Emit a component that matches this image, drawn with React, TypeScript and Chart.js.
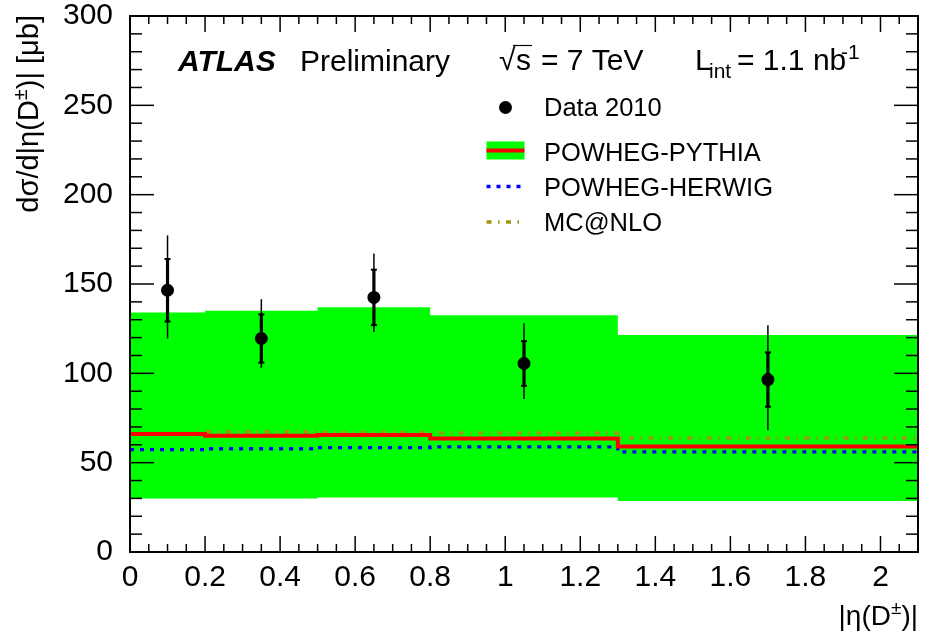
import { useEffect, useRef } from "react";
import { Chart, registerables } from "chart.js";

Chart.register(...registerables);

// ---------- data ----------
const binEdges = [0, 0.2, 0.5, 0.8, 1.3, 2.1];
const bandHigh = [134, 135, 137, 132.5, 121.5];
const bandLow = [30, 30, 30.5, 30.5, 28.5];
const powhegPythia = [66, 65, 65.5, 63.5, 59];
const powhegHerwig = [57.3, 57.8, 58.4, 58.8, 56];
const mcAtNlo = [66.3, 67.3, 66.8, 66.6, 63.8];

const dataEta = [0.1, 0.35, 0.65, 1.05, 1.7];
const dataXsec = [146.5, 119.5, 142.5, 105.5, 96.5];
const statErr = [17.5, 13.5, 15.5, 12.5, 15.2];
const totErrUp = [30.7, 22, 24.6, 22.5, 30.4];
const totErrDown = [27, 16.4, 19.3, 19.8, 28.3];

const legendLabels = ["Data 2010", "POWHEG-PYTHIA", "POWHEG-HERWIG", "MC@NLO"];
// axis titles: [before superscript, superscript, after superscript]
const xTitleParts = ["|η(D", "±", ")|"];
const yTitleParts = ["dσ/d|η(D", "±", ")| [μb]"];

const F = "'Liberation Sans', Arial, Helvetica, sans-serif";
const GREEN = "#00ff00";
const RED = "#ff0000";
const BLUE = "#0000ff";
const OLIVE = "rgb(160,150,20)";

const HERWIG_DASH = [4, 6];
const MCNLO_DASH = [5, 6.5, 1.5, 6.5];

function stepPoints(vals: number[]) {
  const pts = vals.map((v, i) => ({ x: binEdges[i], y: v }));
  pts.push({ x: binEdges[binEdges.length - 1], y: vals[vals.length - 1] });
  return pts;
}

function line(ctx: CanvasRenderingContext2D, x1: number, y1: number, x2: number, y2: number) {
  ctx.beginPath();
  ctx.moveTo(x1, y1);
  ctx.lineTo(x2, y2);
  ctx.stroke();
}

// draws parts right-aligned so the text ends at x=0 in current transform
function drawSupTitle(ctx: CanvasRenderingContext2D, parts: string[], size: number, supSize: number, rise: number) {
  ctx.font = `${size}px ${F}`;
  const w1 = ctx.measureText(parts[0]).width;
  const w3 = ctx.measureText(parts[2]).width;
  ctx.font = `${supSize}px ${F}`;
  const w2 = ctx.measureText(parts[1]).width;
  let x = -(w1 + w2 + w3);
  ctx.font = `${size}px ${F}`;
  ctx.fillText(parts[0], x, 0);
  x += w1;
  ctx.font = `${supSize}px ${F}`;
  ctx.fillText(parts[1], x, -rise);
  x += w2;
  ctx.font = `${size}px ${F}`;
  ctx.fillText(parts[2], x, 0);
}

const errorBars = {
  id: "errorBars",
  afterDatasetsDraw(chart: any) {
    const { ctx, scales } = chart;
    const x = scales.x;
    const y = scales.y;
    ctx.save();
    ctx.strokeStyle = "#000";
    dataEta.forEach((eta, i) => {
      const px = x.getPixelForValue(eta);
      const v = dataXsec[i];
      ctx.lineWidth = 1.5;
      line(ctx, px, y.getPixelForValue(v + totErrUp[i]), px, y.getPixelForValue(v - totErrDown[i]));
      ctx.lineWidth = 3.2;
      const ys1 = y.getPixelForValue(v + statErr[i]);
      const ys2 = y.getPixelForValue(v - statErr[i]);
      line(ctx, px, ys1, px, ys2);
      ctx.lineWidth = 2;
      line(ctx, px - 3, ys1, px + 3, ys1);
      line(ctx, px - 3, ys2, px + 3, ys2);
    });
    ctx.restore();
  },
};

const frameTicks = {
  id: "frameTicks",
  afterDatasetsDraw(chart: any) {
    const { ctx, chartArea, scales } = chart;
    const { left, right, top, bottom } = chartArea;
    const x = scales.x;
    const y = scales.y;
    ctx.save();
    ctx.strokeStyle = "#000";
    ctx.lineWidth = 1.5;
    const xMinor = 0.05;
    for (let i = 0; ; i++) {
      const v = x.min + i * xMinor;
      if (v > x.max + 1e-9) break;
      const px = x.getPixelForValue(v);
      const len = i % 4 === 0 ? 16 : 8;
      line(ctx, px, bottom, px, bottom - len);
      line(ctx, px, top, px, top + len);
    }
    const yMinor = 10;
    for (let i = 0; ; i++) {
      const v = y.min + i * yMinor;
      if (v > y.max + 1e-9) break;
      const py = y.getPixelForValue(v);
      const len = i % 5 === 0 ? 24 : 12;
      line(ctx, left, py, left + len, py);
      line(ctx, right, py, right - len, py);
    }
    ctx.lineWidth = 2;
    ctx.strokeRect(left, top, right - left, bottom - top);
    ctx.restore();
  },
};

const annotations = {
  id: "annotations",
  afterDraw(chart: any) {
    const ctx: CanvasRenderingContext2D = chart.ctx;
    const { chartArea } = chart;
    ctx.save();
    ctx.fillStyle = "#000";
    ctx.textBaseline = "alphabetic";
    ctx.textAlign = "left";

    // axis titles
    ctx.save();
    ctx.translate(chartArea.right, 625);
    drawSupTitle(ctx, xTitleParts, 28, 19, 11);
    ctx.restore();
    ctx.save();
    ctx.translate(37.5, chartArea.top - 1);
    ctx.rotate(-Math.PI / 2);
    drawSupTitle(ctx, yTitleParts, 29, 20, 11);
    ctx.restore();

    // ATLAS Preliminary
    ctx.font = `italic bold 30px ${F}`;
    ctx.fillText("ATLAS", 178, 70.5);
    ctx.font = `30px ${F}`;
    ctx.fillText("Preliminary", 300, 70.5);
    // sqrt(s) = 7 TeV
    ctx.font = `30px ${F}`;
    ctx.fillText("√", 499, 69.5);
    ctx.fillText("s", 516, 69.5);
    const sw = ctx.measureText("s").width;
    ctx.strokeStyle = "#000";
    ctx.lineWidth = 1.2;
    line(ctx, 513, 45.5, 516 + sw + 1, 45.5);
    ctx.fillText("= 7 TeV", 541, 69.5);
    // L_int
    ctx.fillText("L", 695, 69.5);
    ctx.font = `21px ${F}`;
    ctx.fillText("int", 709, 78);
    ctx.font = `30px ${F}`;
    ctx.fillText("= 1.1 nb", 737, 69.5);
    ctx.font = `21px ${F}`;
    ctx.fillText("-1", 841, 59);

    // legend
    const tx = 544;
    ctx.font = `25.5px ${F}`;
    ctx.beginPath();
    ctx.arc(505.5, 107.5, 6.5, 0, Math.PI * 2);
    ctx.fill();
    ctx.fillText(legendLabels[0], tx, 115.5);
    ctx.fillStyle = GREEN;
    ctx.fillRect(486.5, 141.5, 38, 18);
    ctx.strokeStyle = RED;
    ctx.lineWidth = 4;
    line(ctx, 486.5, 150.5, 524.5, 150.5);
    ctx.fillStyle = "#000";
    ctx.fillText(legendLabels[1], tx, 160.5);
    ctx.strokeStyle = BLUE;
    ctx.lineWidth = 3.3;
    ctx.setLineDash(HERWIG_DASH);
    line(ctx, 486.5, 186.5, 524.5, 186.5);
    ctx.fillText(legendLabels[2], tx, 195.5);
    ctx.strokeStyle = OLIVE;
    ctx.setLineDash(MCNLO_DASH);
    line(ctx, 486.5, 222, 524.5, 222);
    ctx.setLineDash([]);
    ctx.fillText(legendLabels[3], tx, 231);
    ctx.restore();
  },
};

export default function App() {
  const ref = useRef<HTMLCanvasElement>(null);
  useEffect(() => {
    if (!ref.current) return;
    const chart = new Chart(ref.current, {
      type: "line",
      data: {
        datasets: [
          {
            label: legendLabels[0],
            data: dataEta.map((e, i) => ({ x: e, y: dataXsec[i] })),
            showLine: false,
            pointRadius: 6.5,
            pointBackgroundColor: "#000",
            pointBorderColor: "#000",
            pointBorderWidth: 0,
            order: 0,
          },
          {
            label: legendLabels[1],
            data: stepPoints(powhegPythia),
            stepped: "before",
            borderColor: RED,
            borderWidth: 4,
            pointRadius: 0,
            fill: false,
            order: 1,
          },
          {
            label: legendLabels[2],
            data: stepPoints(powhegHerwig),
            stepped: "before",
            borderColor: BLUE,
            borderWidth: 3.3,
            borderDash: HERWIG_DASH,
            pointRadius: 0,
            fill: false,
            order: 2,
          },
          {
            label: legendLabels[3],
            data: stepPoints(mcAtNlo),
            stepped: "before",
            borderColor: OLIVE,
            borderWidth: 3.3,
            borderDash: MCNLO_DASH,
            pointRadius: 0,
            fill: false,
            order: 3,
          },
          {
            label: "band low",
            data: stepPoints(bandLow),
            stepped: "before",
            borderWidth: 0,
            borderColor: "rgba(0,0,0,0)",
            pointRadius: 0,
            fill: false,
            order: 4,
          },
          {
            label: "band high",
            data: stepPoints(bandHigh),
            stepped: "before",
            borderWidth: 0,
            borderColor: "rgba(0,0,0,0)",
            backgroundColor: GREEN,
            pointRadius: 0,
            fill: 4,
            order: 5,
          },
        ] as any,
      },
      options: {
        responsive: false,
        animation: false,
        devicePixelRatio: 1,
        layout: { padding: { top: 16, right: 8, left: 0, bottom: 0 } },
        plugins: {
          legend: { display: false },
          tooltip: { enabled: false },
          filler: { propagate: false },
        },
        scales: {
          x: {
            type: "linear",
            min: 0,
            max: 2.1,
            grid: { display: false, drawTicks: false },
            border: { display: false },
            ticks: {
              stepSize: 0.2,
              includeBounds: false,
              color: "#000",
              padding: 11,
              maxRotation: 0,
              autoSkip: false,
              font: { family: F, size: 30, lineHeight: 1 },
              callback: (v: any) => String(Number(Number(v).toFixed(2))),
            },
            title: { display: false },
            afterFit(scale: any) {
              scale.height = 84;
              scale.paddingLeft = 0;
              scale.paddingRight = 0;
            },
          },
          y: {
            type: "linear",
            min: 0,
            max: 300,
            grid: { display: false, drawTicks: false },
            border: { display: false },
            ticks: {
              stepSize: 50,
              includeBounds: false,
              color: "#000",
              padding: 17,
              font: { family: F, size: 30, lineHeight: 1 },
            },
            title: { display: false },
            afterFit(scale: any) {
              scale.width = 130;
              scale.paddingTop = 0;
              scale.paddingBottom = 0;
            },
          },
        },
      } as any,
      plugins: [errorBars, frameTicks, annotations],
    });
    return () => chart.destroy();
  }, []);
  return (
    <div style={{ position: "absolute", left: 0, top: 0, width: 926, height: 636, background: "#fff" }}>
      <canvas ref={ref} width={926} height={636} style={{ display: "block" }} />
    </div>
  );
}
